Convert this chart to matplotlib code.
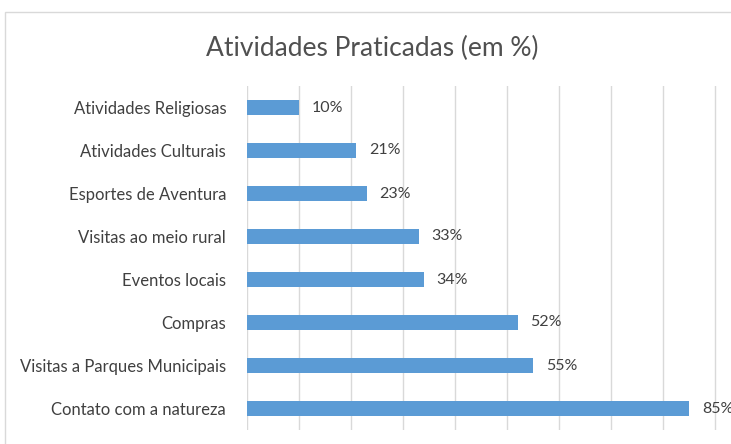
import matplotlib.pyplot as plt
from matplotlib.patches import Rectangle

# %% Data
categories = ["Contato com a natureza", "Visitas a Parques Municipais", "Compras",
              "Eventos locais", "Visitas ao meio rural", "Esportes de Aventura",
              "Atividades Culturais", "Atividades Religiosas"]
values = [85, 55, 52, 34, 33, 23, 21, 10]
title = "Atividades Praticadas (em %)"

plt.rcParams['font.family'] = ['Lato', 'DejaVu Sans']

W, H = 731, 444
fig = plt.figure(figsize=(W/100, H/100), dpi=100)

# chart frame (cropped on right and bottom)
fig.patches.append(Rectangle((5/W, -0.1), 2, (H-12)/H + 0.1, transform=fig.transFigure,
                             fill=False, edgecolor="#d9d9d9", linewidth=1.0))

ax = fig.add_axes([247/W, 1-430/H, (W-247)/W, (430-86)/H])
ax.barh(range(len(values)), values, height=0.37, color="#5b9bd5", zorder=2)
for i, v in enumerate(values):
    ax.text(v + 2.4, i, f"{v}%", va="center", ha="left", fontsize=11.5, color="#404040")

ax.set_xlim(0, 93)
ax.set_ylim(-0.5, len(values) - 0.5)
ax.set_xticks(range(0, 91, 10))
ax.set_xticklabels([])
ax.set_yticks(range(len(categories)))
ax.set_yticklabels(categories, fontsize=12, color="#404040")
ax.tick_params(axis="y", length=0, pad=15)
ax.tick_params(axis="x", length=0)
ax.grid(axis="x", color="#d9d9d9", linewidth=1.0, zorder=0)
for s in ax.spines.values():
    s.set_visible(False)

fig.text(372/W, 1-48/H, title, ha="center", va="center", fontsize=19, color="#505050")

fig.savefig("out.png", dpi=100)
